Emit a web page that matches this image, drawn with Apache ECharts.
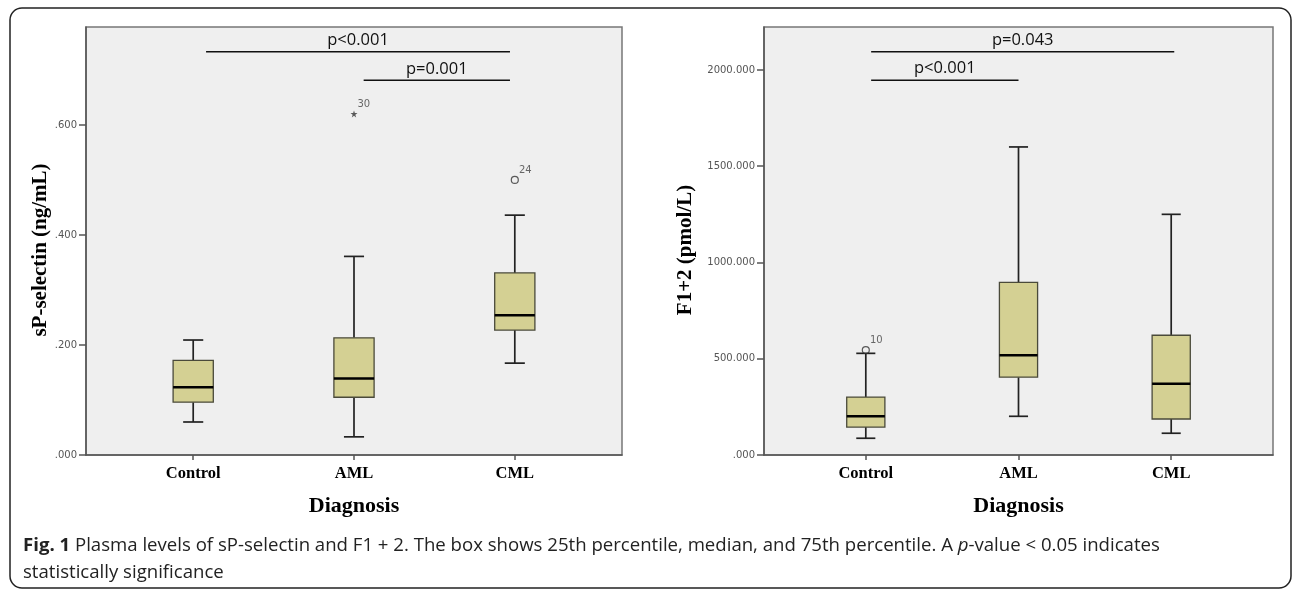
<!DOCTYPE html>
<html>
<head>
<meta charset="utf-8">
<script src="https://cdn.jsdelivr.net/npm/echarts@6/dist/echarts.min.js"></script>
<style>
  html, body { margin: 0; padding: 0; background: #fff; }
  #chart { width: 1292px; height: 590px; }
</style>
</head>
<body>
<div id="chart"></div>
<script>
const categories = ['Control', 'AML', 'CML'];

// box stats per group: [lower whisker, Q1, median, Q3, upper whisker]
const selectinStats = [
  [0.060, 0.096, 0.123, 0.172, 0.209],
  [0.033, 0.105, 0.139, 0.213, 0.361],
  [0.167, 0.227, 0.254, 0.331, 0.436]
];
const f12Stats = [
  [87, 145, 201, 301, 528],
  [201, 404, 518, 897, 1600],
  [113, 187, 370, 622, 1250]
];

// outliers: [group index, value, case id, kind]
const selectinOutliers = [[1, 0.620, '30', 'extreme'], [2, 0.500, '24', 'outlier']];
const f12Outliers = [[0, 545, '10', 'outlier']];

const selectinTicks = [0, 0.2, 0.4, 0.6];
const f12Ticks = [0, 500, 1000, 1500, 2000];

// significance bars: [from, to, height, label]
const selectinSig = [[1.08, 2.97, 0.733, 'p<0.001'], [2.06, 2.97, 0.681, 'p=0.001']];
const f12Sig = [[1.035, 3.02, 2095, 'p=0.043'], [1.035, 2.0, 1947, 'p<0.001']];

const SERIF = '"Liberation Serif", "Times New Roman", serif';
const SANS = '"Open Sans", "DejaVu Sans", sans-serif';
const STAR = 'path://M5,0L6.2,3.6L10,3.6L6.9,5.9L8.1,9.5L5,7.3L1.9,9.5L3.1,5.9L0,3.6L3.8,3.6Z';

const chart = echarts.init(document.getElementById('chart'));

function fmtTick(v) {
  const s = Number(v).toFixed(3);
  return s.startsWith('0.') ? s.slice(1) : s;
}

function renderBox(params, api) {
  const x = api.value(0);
  const half = api.size([0.125, 0])[0];
  const cap = half / 2;
  const p = i => api.coord([x, api.value(i)]);
  const lo = p(1), q1 = p(2), md = p(3), q3 = p(4), hi = p(5);
  const cx = lo[0];
  const w = { stroke: '#222', lineWidth: 1.7 };
  return {
    type: 'group',
    children: [
      { type: 'line', shape: { x1: cx, y1: hi[1], x2: cx, y2: q3[1] }, style: w },
      { type: 'line', shape: { x1: cx, y1: q1[1], x2: cx, y2: lo[1] }, style: w },
      { type: 'line', shape: { x1: cx - cap, y1: hi[1], x2: cx + cap, y2: hi[1] }, style: w },
      { type: 'line', shape: { x1: cx - cap, y1: lo[1], x2: cx + cap, y2: lo[1] }, style: w },
      { type: 'rect', shape: { x: cx - half, y: q3[1], width: half * 2, height: q1[1] - q3[1] },
        style: { fill: '#d4d093', stroke: '#4a4a3a', lineWidth: 1.3 } },
      { type: 'line', shape: { x1: cx - half, y1: md[1], x2: cx + half, y2: md[1] },
        style: { stroke: '#000', lineWidth: 2.5 } }
    ]
  };
}

function sigRender(list) {
  return function (params, api) {
    const a = api.coord([api.value(0), api.value(2)]);
    const b = api.coord([api.value(1), api.value(2)]);
    return {
      type: 'group',
      children: [
        { type: 'line', shape: { x1: a[0], y1: a[1], x2: b[0], y2: b[1] },
          style: { stroke: '#111', lineWidth: 1.5 } },
        { type: 'text', x: (a[0] + b[0]) / 2, y: a[1] - 3,
          style: { text: list[params.dataIndex][3], fill: '#111', font: '16.5px ' + SANS,
                   align: 'center', verticalAlign: 'bottom' } }
      ]
    };
  };
}

function outlierData(list) {
  return list.map(o => ({
    value: [o[0] + 1, o[1]],
    symbol: o[3] === 'extreme' ? STAR : 'circle',
    symbolSize: 7,
    itemStyle: o[3] === 'extreme'
      ? { color: '#333', borderWidth: 0 }
      : { color: 'rgba(0,0,0,0)', borderColor: '#333', borderWidth: 1.2 },
    label: { formatter: o[2] }
  }));
}

function xAxisFor(idx) {
  return {
    type: 'value', gridIndex: idx, min: 1 / 3, max: 11 / 3,
    name: 'Diagnosis', nameLocation: 'middle', nameGap: 40, nameMoveOverlap: false,
    nameTextStyle: { fontFamily: SERIF, fontWeight: 'bold', fontSize: 22, color: '#000' },
    axisLine: { show: true, lineStyle: { color: '#555', width: 1.5 } },
    axisTick: { show: true, length: 5, customValues: [1, 2, 3], lineStyle: { color: '#555', width: 1.5 } },
    axisLabel: { customValues: [1, 2, 3], margin: 10, formatter: v => categories[Math.round(v) - 1],
                 fontFamily: SERIF, fontWeight: 'bold', fontSize: 16.5, color: '#000' },
    splitLine: { show: false }
  };
}

function yAxisFor(idx, max, ticks, name, gap) {
  return {
    type: 'value', gridIndex: idx, min: 0, max: max,
    name: name, nameLocation: 'middle', nameRotate: 90, nameGap: gap, nameMoveOverlap: false,
    nameTextStyle: { fontFamily: SERIF, fontWeight: 'bold', fontSize: 21, color: '#000', padding: [0, 18, 0, 0] },
    axisLine: { show: true, lineStyle: { color: '#555', width: 1.5 } },
    axisTick: { show: true, length: 7, customValues: ticks, lineStyle: { color: '#555', width: 1.5 } },
    axisLabel: { customValues: ticks, margin: 9, formatter: fmtTick,
                 fontFamily: '"DejaVu Sans", sans-serif', fontSize: 10, color: '#555' },
    splitLine: { show: false }
  };
}

const gridStyle = { show: true, backgroundColor: '#efefef', borderColor: '#777', borderWidth: 1.5 };

const option = {
  animation: false,
  grid: [
    Object.assign({ left: 86, top: 27, width: 536, height: 428 }, gridStyle),
    Object.assign({ left: 764, top: 27, width: 509, height: 428 }, gridStyle)
  ],
  xAxis: [xAxisFor(0), xAxisFor(1)],
  yAxis: [
    yAxisFor(0, 0.778, selectinTicks, 'sP-selectin (ng/mL)', 35),
    yAxisFor(1, 2223, f12Ticks, 'F1+2 (pmol/L)', 68)
  ],
  series: [
    { type: 'custom', xAxisIndex: 0, yAxisIndex: 0, renderItem: renderBox,
      data: selectinStats.map((s, i) => [i + 1].concat(s)) },
    { type: 'custom', xAxisIndex: 1, yAxisIndex: 1, renderItem: renderBox,
      data: f12Stats.map((s, i) => [i + 1].concat(s)) },
    { type: 'custom', xAxisIndex: 0, yAxisIndex: 0, renderItem: sigRender(selectinSig),
      data: selectinSig.map(s => [s[0], s[1], s[2]]) },
    { type: 'custom', xAxisIndex: 1, yAxisIndex: 1, renderItem: sigRender(f12Sig),
      data: f12Sig.map(s => [s[0], s[1], s[2]]) },
    { type: 'scatter', xAxisIndex: 0, yAxisIndex: 0, data: outlierData(selectinOutliers),
      label: { show: true, position: 'right', distance: 0, offset: [0, -10],
               fontFamily: '"DejaVu Sans", sans-serif', fontSize: 10, color: '#444' } },
    { type: 'scatter', xAxisIndex: 1, yAxisIndex: 1, data: outlierData(f12Outliers),
      label: { show: true, position: 'right', distance: 0, offset: [0, -10],
               fontFamily: '"DejaVu Sans", sans-serif', fontSize: 10, color: '#444' } }
  ],
  graphic: [
    { type: 'rect', shape: { x: 10, y: 8, width: 1281, height: 580, r: 12 },
      style: { fill: 'none', stroke: '#222', lineWidth: 1.5 } },
    { type: 'text', left: 23, top: 532,
      style: {
        text: '{b|Fig. 1} Plasma levels of sP-selectin and F1 + 2. The box shows 25th percentile, median, and 75th percentile. A {i|p}-value < 0.05 indicates\nstatistically significance',
        font: '18.6px ' + SANS, fill: '#222', lineHeight: 27,
        rich: {
          b: { fontWeight: 'bold', fontFamily: SANS, fontSize: 18.6, fill: '#222', lineHeight: 27 },
          i: { fontStyle: 'italic', fontFamily: SANS, fontSize: 18.6, fill: '#222', lineHeight: 27 }
        }
      } }
  ]
};

chart.setOption(option);
</script>
</body>
</html>
